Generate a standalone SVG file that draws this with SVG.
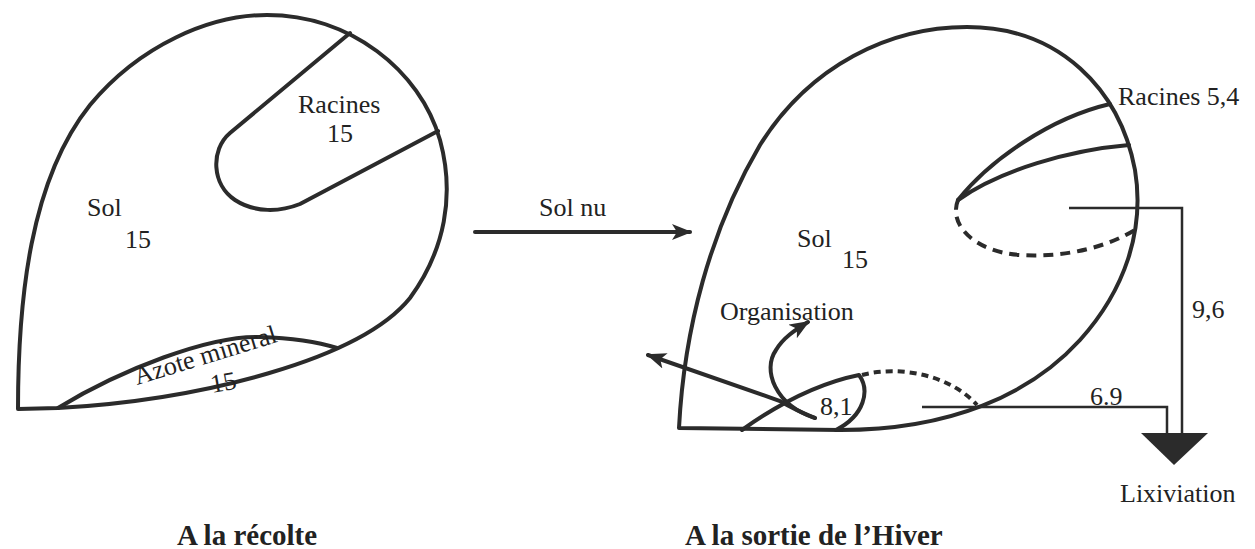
<svg xmlns="http://www.w3.org/2000/svg" width="1255" height="549" viewBox="0 0 1255 549">
  <style>
    .edge { fill: none; stroke: #2b2b2b; stroke-width: 4; stroke-linejoin: round; stroke-linecap: round; }
    .thin { fill: none; stroke: #2b2b2b; stroke-width: 2.5; }
    .dash { fill: none; stroke: #2b2b2b; stroke-width: 4; stroke-dasharray: 10 7; }
    .dot { fill: none; stroke: #2b2b2b; stroke-width: 4; stroke-dasharray: 7 5; }
    .flow { fill: none; stroke: #2b2b2b; stroke-width: 4; stroke-linecap: round; }
    text { font-family: "Liberation Serif", "Times New Roman", serif; font-size: 26px; fill: #222; }
    .title { font-size: 29px; font-weight: bold; }
  </style>
  <defs>
    <marker id="head" markerUnits="userSpaceOnUse" markerWidth="20" markerHeight="16" viewBox="0 0 20 16" refX="18" refY="8" orient="auto">
      <path d="M0,0 L20,8 L0,16 L5,8 Z" fill="#2b2b2b"/>
    </marker>
  </defs>

  <!-- At harvest: soil compartment with roots and mineral nitrogen -->
  <g id="recolte">
    <path class="edge" d="M18,409 C18,300 30,180 90,105 C140,45 210,15 267,15 C350,15 420,70 440,140 C455,195 445,250 410,298 C360,360 200,400 58,408 Z"/>
    <path class="edge" d="M350,33 L230,133 C210,150 212,185 235,200 C255,213 280,212 300,204 L438,131"/>
    <path class="edge" d="M58,408 C120,370 210,335 260,337 C290,338 318,342 337,348"/>
    <text x="298" y="113">Racines</text>
    <text x="327" y="142">15</text>
    <text x="87" y="216">Sol</text>
    <text x="125" y="248">15</text>
    <text transform="translate(137,385) rotate(-17)">Azote mineral</text>
    <text transform="translate(212,393) rotate(-10)">15</text>
    <text class="title" x="177" y="545">A la récolte</text>
  </g>

  <!-- End of winter: soil compartment after bare soil period -->
  <g id="hiver">
    <path class="edge" d="M679,428 C684,330 710,230 760,145 C810,65 890,27 967,27 C1060,27 1120,90 1135,170 C1145,230 1125,290 1080,340 C1030,395 950,430 840,430 L679,428 Z"/>
    <path class="edge" d="M1110,104 C1050,118 990,160 958,200"/>
    <path class="edge" d="M1129,145 C1070,150 1000,170 958,200"/>
    <path class="dash" d="M958,200 C948,225 975,252 1020,255 C1070,258 1110,245 1135,230"/>
    <path class="edge" d="M742,430 C770,410 810,385 859,375 C870,390 865,415 836,430"/>
    <path class="dot" d="M862,375 C900,365 950,375 977,405"/>
    <text x="1118" y="105">Racines 5,4</text>
    <text x="797" y="247">Sol</text>
    <text x="842" y="268">15</text>
    <text x="820" y="415">8,1</text>
    <text x="720" y="320">Organisation</text>
    <text class="title" x="685" y="545">A la sortie de l’Hiver</text>
  </g>

  <!-- Leaching outflow -->
  <g id="lixiviation">
    <path d="M1141,433 L1208,433 L1174,465 Z" fill="#2b2b2b"/>
    <text x="1192" y="318">9,6</text>
    <text x="1090" y="405">6.9</text>
    <text x="1120" y="502">Lixiviation</text>
  </g>

  <g id="connectors">
    <path class="flow" d="M475,232 L690,232" marker-end="url(#head)"/>
    <text x="539" y="216">Sol nu</text>
    <path class="flow" d="M815,418 Q795,410 780,401 L648,355" marker-end="url(#head)"/>
    <path class="flow" d="M815,418 C775,405 762,370 776,350 C783,338 795,330 808,322" marker-end="url(#head)"/>
    <path class="thin" d="M1069,208 L1182,208 L1182,435"/>
    <path class="thin" d="M922,407 L1167,407 L1167,435"/>
  </g>
</svg>
